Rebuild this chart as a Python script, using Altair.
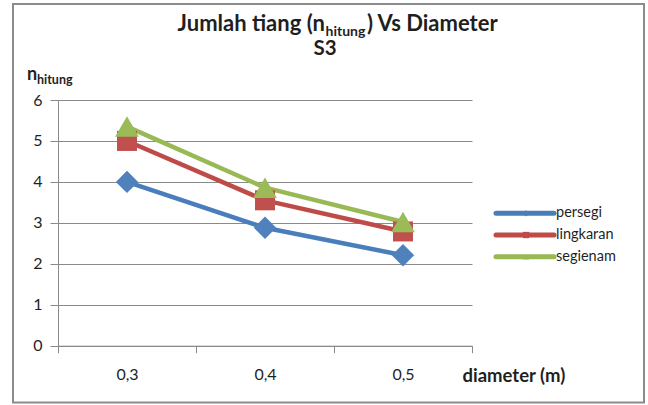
import altair as alt
import pandas as pd

# Pile count (n_hitung) against pile diameter for three pile sections
diameters = ["0,3", "0,4", "0,5"]
series = ["persegi", "lingkaran", "segienam"]
persegi = [4.0, 2.88, 2.21]
lingkaran = [5.0, 3.55, 2.79]
segienam = [5.35, 3.86, 3.02]

colors = ["#4a7ebb", "#be4b48", "#98b954"]
marker_colors = ["#4f81bd", "#c0504d", "#9bbb59"]
shapes = ["diamond", "square", "triangle-up"]
y_ticks = [0, 1, 2, 3, 4, 5, 6]

FONT = "Lato"
TEXT = "#1f1f1f"
GRID = "#8a8a8a"

rows = []
for name, vals in zip(series, [persegi, lingkaran, segienam]):
    for d, v in zip(diameters, vals):
        rows.append({"diameter": d, "series": name, "n": v})
df = pd.DataFrame(rows)

W, H = 414, 245.7

x_enc = alt.X(
    "diameter:N",
    sort=diameters,
    scale=alt.Scale(type="band", domain=diameters, paddingInner=0, paddingOuter=0),
    axis=alt.Axis(
        title=None, labelAngle=0, tickBand="extent", tickSize=7, tickColor=GRID,
        domainColor=GRID, labelFontSize=16, labelFont=FONT, labelColor=TEXT,
        labelPadding=14, grid=False,
    ),
)
y_enc = alt.Y(
    "n:Q",
    scale=alt.Scale(domain=[0, 6], nice=False),
    axis=alt.Axis(
        title=None, values=y_ticks, tickSize=8, tickColor=GRID, domainColor=GRID,
        gridColor=GRID, labelFontSize=16, labelFont=FONT, labelColor=TEXT,
        labelPadding=8,
    ),
)
color_enc = alt.Color("series:N", scale=alt.Scale(domain=series, range=colors), legend=None)

base = alt.Chart(df)
lines = base.mark_line(strokeWidth=4.5, strokeCap="round", strokeJoin="round").encode(
    x=x_enc, y=y_enc, color=color_enc
)

marker_layers = []
for name, col, shp, size in zip(series, marker_colors, shapes, [500, 400, 560]):
    marker_layers.append(
        base.transform_filter(alt.datum.series == name)
        .mark_point(filled=True, opacity=1, shape=shp, size=size, color=col)
        .encode(x=x_enc, y=y_enc)
    )

plot = alt.layer(lines, *marker_layers)

# legend on the right side
leg_df = pd.DataFrame({"series": series})
leg_y = alt.Y(
    "series:N",
    scale=alt.Scale(type="point", domain=series, range=[113.3, 156.7], padding=0),
    axis=None,
)
leg_color = alt.Color("series:N", scale=alt.Scale(domain=series, range=colors), legend=None)
leg_base = alt.Chart(leg_df)
leg_lines = leg_base.mark_rule(strokeWidth=5, strokeCap="round").encode(
    x=alt.value(438), x2=alt.value(496), y=leg_y, color=leg_color,
)
leg_marks = leg_base.mark_point(filled=True, opacity=1, size=40).encode(
    x=alt.value(468), y=leg_y, color=leg_color,
    shape=alt.Shape("series:N", scale=alt.Scale(domain=series, range=shapes), legend=None),
)
leg_text = leg_base.mark_text(
    align="left", baseline="middle", font=FONT, fontSize=14.5, color=TEXT
).encode(x=alt.value(498), y=leg_y, text="series:N")
legend = alt.layer(leg_lines, leg_marks, leg_text)

one = pd.DataFrame({"k": [0]})


def label(txt, x, y, size, bold=True, align="left"):
    return alt.Chart(one).mark_text(
        text=txt, align=align, baseline="alphabetic", font=FONT, fontSize=size,
        fontWeight="bold" if bold else "normal", color=TEXT,
    ).encode(x=alt.value(x), y=alt.value(y))


titles = [
    label("Jumlah tiang (n", 267, -69, 22, align="right"),
    label("hitung", 267.5, -64.5, 14),
    label(") Vs Diameter", 309, -69, 22),
    label("S3", 267, -45.5, 20.5, align="center"),
    label("n", -31, -20, 18),
    label("hitung", -21, -16, 12.5),
    label("diameter (m)", 404.5, 281.5, 18.5),
]

frame = alt.Chart(one).mark_rect(fillOpacity=0, stroke="#8c8c8c", strokeWidth=2).encode(
    x=alt.value(-45), x2=alt.value(586), y=alt.value(-96), y2=alt.value(302.5)
)

chart = (
    alt.layer(frame, plot, legend, *titles)
    .resolve_scale(y="independent")
    .properties(
        width=W,
        height=H,
        autosize=alt.AutoSizeParams(type="none"),
        padding={"left": 58, "top": 100, "right": 176, "bottom": 59.3},
        background="white",
    )
    .configure_view(strokeWidth=0)
    .configure_axis(gridWidth=1, domainWidth=1, tickWidth=1)
)

chart.save("out.html", embed_options={"renderer": "svg", "actions": False})
